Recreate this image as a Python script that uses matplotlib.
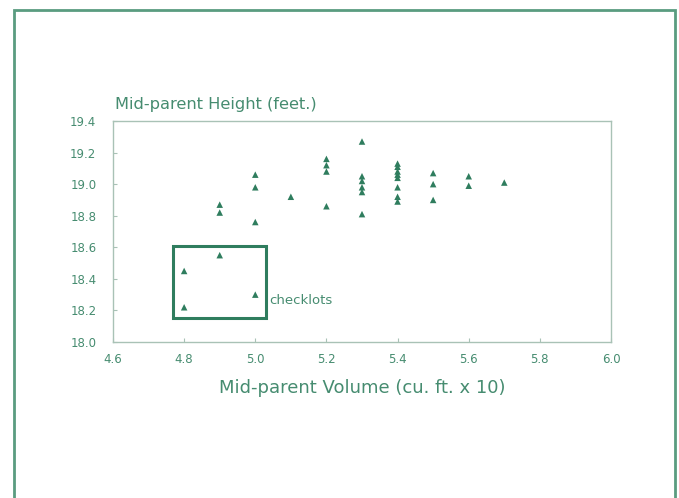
import matplotlib.pyplot as plt
from matplotlib.patches import Rectangle

# Mid-parent volume (cu. ft. x 10) and mid-parent height (feet)
volume = [4.8, 4.8, 4.9, 5.0,
          4.9, 4.9,
          5.0, 5.0, 5.0,
          5.1,
          5.2, 5.2, 5.2, 5.2,
          5.3, 5.3, 5.3, 5.3, 5.3, 5.3,
          5.4, 5.4, 5.4, 5.4, 5.4, 5.4, 5.4, 5.4,
          5.5, 5.5, 5.5,
          5.6, 5.6,
          5.7]
height = [18.45, 18.22, 18.55, 18.30,
          18.87, 18.82,
          19.06, 18.98, 18.76,
          18.92,
          19.16, 19.12, 19.08, 18.86,
          19.27, 19.05, 19.02, 18.98, 18.95, 18.81,
          19.13, 19.11, 19.08, 19.06, 19.04, 18.98, 18.92, 18.89,
          19.07, 19.00, 18.90,
          19.05, 18.99,
          19.01]

# checklots box (data coords)
box_x = [4.77, 5.03]
box_y = [18.15, 18.61]

xticks = [4.6, 4.8, 5.0, 5.2, 5.4, 5.6, 5.8, 6.0]
yticks = [18.0, 18.2, 18.4, 18.6, 18.8, 19.0, 19.2, 19.4]

green = '#2f7d5e'
text_green = '#468c70'
spine = '#a9c2b6'

plt.rcParams['font.family'] = ['DejaVu Sans']

fig = plt.figure(figsize=(6.79, 4.98), dpi=100)
fig.patch.set_facecolor('white')

# outer frame
fig.patches.append(Rectangle((14 / 679, -0.01), (675 - 14) / 679, 1 - 10 / 498 + 0.01,
                             transform=fig.transFigure, fill=False,
                             edgecolor='#5a9c80', linewidth=2))

ax = fig.add_axes([113 / 679, 1 - 342 / 498, (611 - 113) / 679, (342 - 121) / 498])
ax.scatter(volume, height, marker='^', s=22, color=green, edgecolors='none', zorder=3)

ax.add_patch(Rectangle((box_x[0], box_y[0]), box_x[1] - box_x[0], box_y[1] - box_y[0],
                       fill=False, edgecolor=green, linewidth=2.2, zorder=2))
ax.text(box_x[1] + 0.01, 18.26, 'checklots', fontsize=9.5, color=text_green,
        ha='left', va='center')

ax.set_xlim(4.6, 6.0)
ax.set_ylim(18.0, 19.4)
ax.set_xticks(xticks)
ax.set_yticks(yticks)
ax.set_xticklabels([f'{v:.1f}' for v in xticks])
ax.set_yticklabels([f'{v:.1f}' for v in yticks])
ax.tick_params(direction='in', length=3, color=spine, labelcolor=text_green,
               labelsize=8.5)
ax.tick_params(axis='y', pad=12)
ax.tick_params(axis='x', pad=8)
for s in ax.spines.values():
    s.set_color(spine)
    s.set_linewidth(1)

ax.set_xlabel('Mid-parent Volume (cu. ft. x 10)', fontsize=13, color=text_green,
              labelpad=9)
fig.text(115 / 679, 1 - 104 / 498, 'Mid-parent Height (feet.)', fontsize=11.7,
         color=text_green, ha='left', va='center')

fig.savefig('out.png', dpi=100)
